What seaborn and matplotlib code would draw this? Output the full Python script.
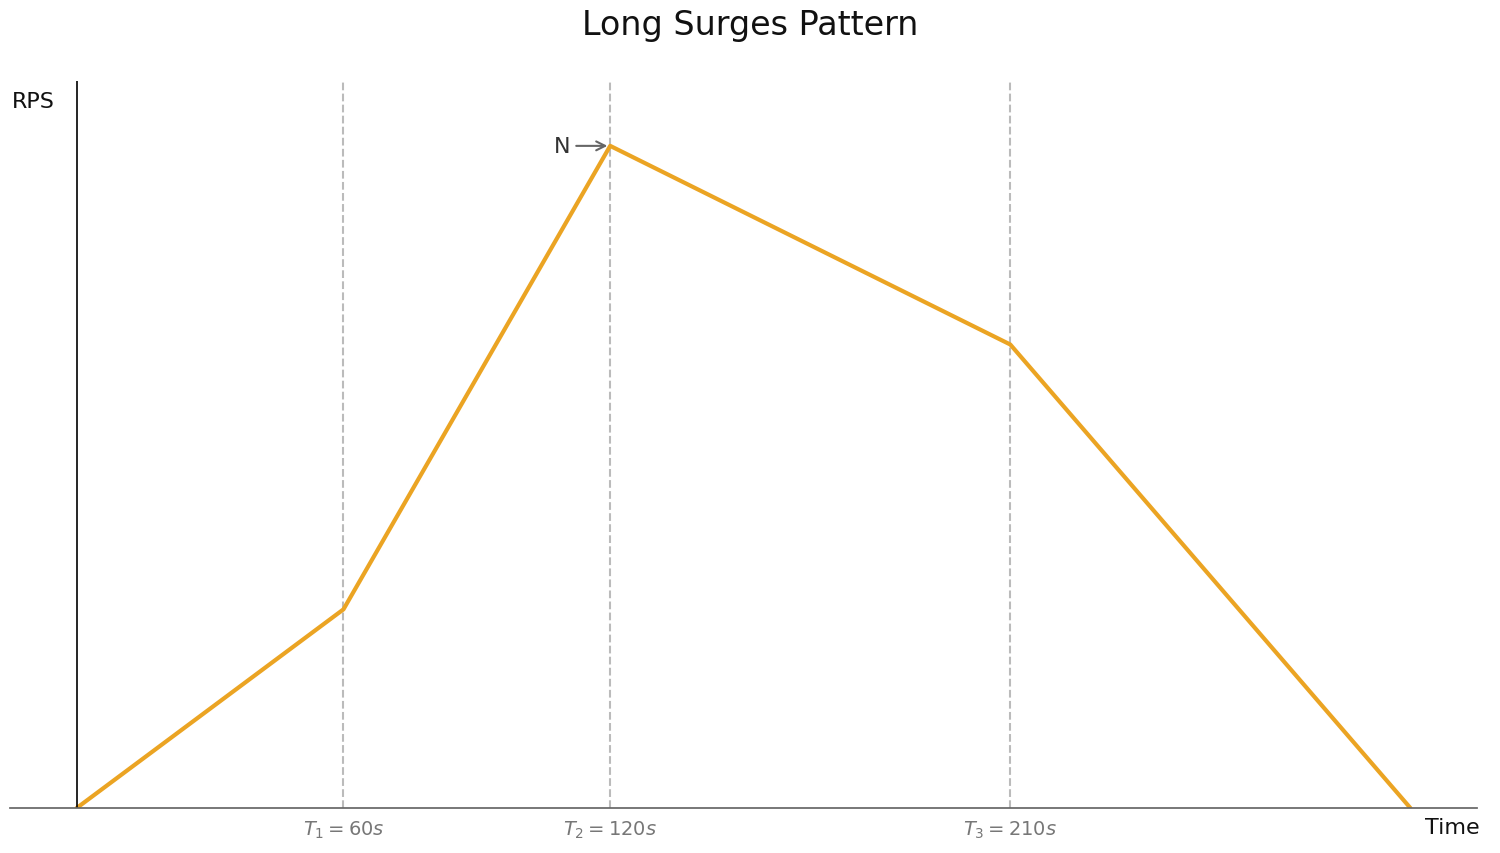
import matplotlib
matplotlib.use("Agg")
import matplotlib.pyplot as plt
import seaborn as sns

# Daten
times = [0, 60, 120, 210, 300]
rps = [0.0, 0.30, 1.0, 0.70, 0.0]
marks = [60, 120, 210]
mark_labels = [r"$T_1 = 60s$", r"$T_2 = 120s$", r"$T_3 = 210s$"]

sns.set_theme(style="white")
plt.rcParams['font.family'] = ['DejaVu Sans']

fig = plt.figure(figsize=(15, 8.54), dpi=100)
ax = fig.add_axes([0.0067, 0.0527, 0.978, 0.8513])

sns.lineplot(x=times, y=rps, color="#EBA423", linewidth=3, ax=ax)
for m in marks:
    ax.axvline(m, color="#bbbbbb", linestyle="--", linewidth=1.5, zorder=0)
ax.axvline(0, color="black", linewidth=1.2)

ax.set_xlim(-15, 315)
ax.set_ylim(0, 1.098)
ax.set_xticks(marks)
ax.set_xticklabels(mark_labels, color="#777777", fontsize=14)
ax.tick_params(axis="x", length=0, pad=8)
ax.set_yticks([])
for s in ["top", "right", "left"]:
    ax.spines[s].set_visible(False)
ax.spines["bottom"].set_color("#666666")

ax.annotate("N", xy=(120, 1.0), xytext=(111, 1.0), fontsize=16, color="#333333",
            va="center", ha="right",
            arrowprops=dict(arrowstyle="->", color="#666666", lw=1.5))

fig.text(0.008, 0.88, "RPS", fontsize=16, color="#111111", va="center")
fig.text(0.95, 0.03, "Time", fontsize=16, color="#111111", va="center")
fig.suptitle("Long Surges Pattern", fontsize=24, y=0.99, color="#111111")

fig.savefig("out.png", dpi=100)
